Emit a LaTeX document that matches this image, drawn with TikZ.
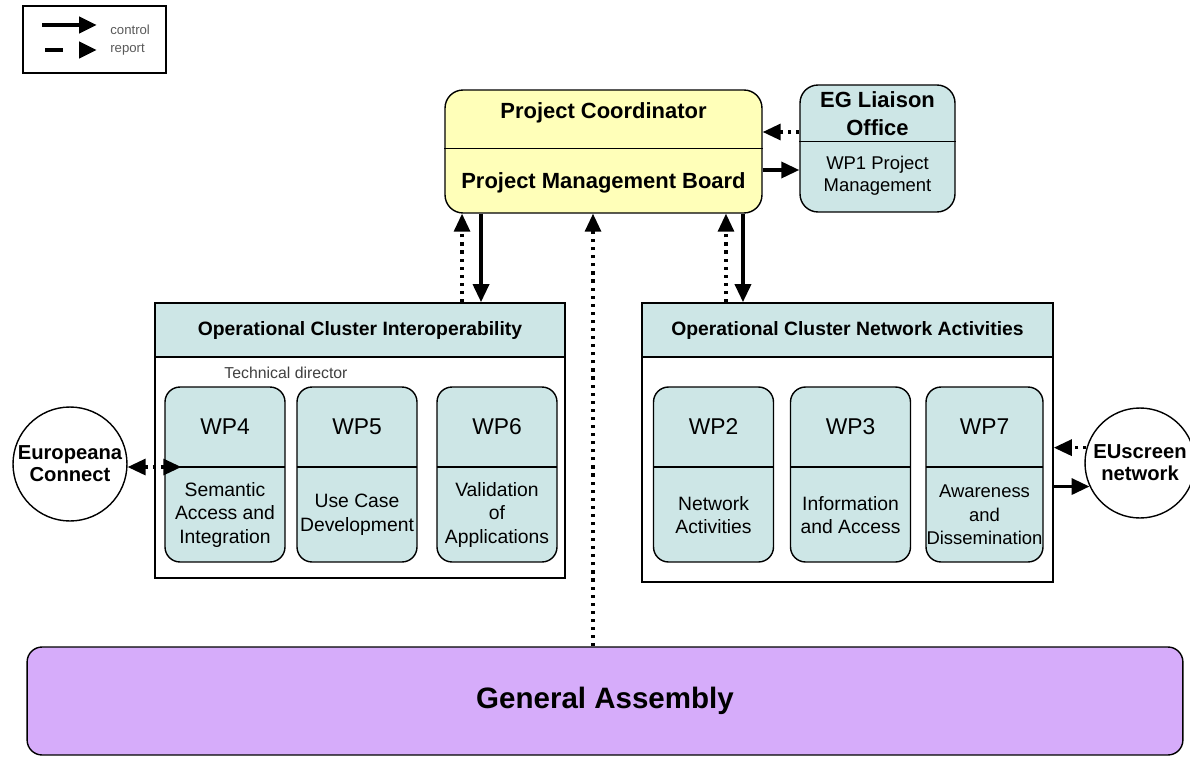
\documentclass[tikz,border=0pt]{standalone}
\usepackage{fontspec}
\setmainfont{Liberation Sans}
\usetikzlibrary{arrows.meta,positioning}

\definecolor{pcyellow}{RGB}{255,255,185}
\definecolor{wpblue}{RGB}{205,230,230}
\definecolor{gapurple}{RGB}{214,172,250}

\begin{document}
\begin{tikzpicture}[
        x=0.02cm, y=-0.02cm,
        >={Triangle[length=0.36cm,width=0.32cm]},
        every node/.style={align=center, inner sep=0pt},
        box/.style={draw, line width=0.8pt, rounded corners=0.3cm},
        wpbox/.style={box, fill=wpblue, minimum width=2.4cm, minimum height=3.5cm},
        wptitle/.style={minimum width=2.4cm, minimum height=1.6cm, font=\fontsize{13}{15}\selectfont},
        wpdesc/.style={minimum width=2.4cm, minimum height=1.9cm, font=\fontsize{11}{13.3}\selectfont},
        cluster/.style={draw, line width=1pt, minimum height=5.5cm},
        clusterhead/.style={draw, line width=1pt, fill=wpblue, minimum height=1.08cm, font=\bfseries\fontsize{11}{13}\selectfont},
        boldtext/.style={font=\bfseries\fontsize{12.5}{16}\selectfont},
        partner/.style={draw, circle, line width=0.8pt, font=\bfseries\fontsize{11.5}{12.5}\selectfont},
        legendtext/.style={text=black!65, font=\fontsize{7.5}{9}\selectfont},
        control/.style={line width=2pt, ->},
        report/.style={line width=1.8pt, dash pattern=on 1.8pt off 2.8pt, ->}
    ]
  \useasboundingbox (0,0) rectangle (1190,757);

  % Legend
  \node[draw, line width=1pt, minimum width=2.86cm, minimum height=1.34cm] (legend) at (94.5,39.5) {};
  \node[legendtext, anchor=west] (ctrltxt) at (110,30) {control};
  \node[legendtext, anchor=west] (reptxt) at (110,50) {report};
  \coordinate (ctrlstart) at (42,25);
  \coordinate (ctrlend) at (97,25);
  \coordinate (repstart) at (45,50);
  \coordinate (repend) at (97,50);
  \draw[line width=2.8pt, ->] (ctrlstart) -- (ctrlend);
  \draw[line width=2.6pt, dash pattern=on 0.36cm off 1cm, ->] (repstart) -- (repend);

  % Management
  \node[box, fill=pcyellow, rounded corners=0.36cm, minimum width=6.34cm, minimum height=2.46cm] (pc) at (603.5,151.5) {};
  \node[boldtext, below=0.25cm of pc.north] (pccoord) {Project Coordinator};
  \node[boldtext, above=0.4cm of pc.south] (pcboard) {Project Management Board};
  \coordinate[below=1.18cm of pc.north] (pcsplit);
  \draw[line width=0.8pt] (pc.west |- pcsplit) -- (pc.east |- pcsplit);

  \node[box, fill=wpblue, rounded corners=0.36cm, minimum width=3.1cm, minimum height=2.54cm] (eg) at (877.5,148.5) {};
  \node[boldtext] (egname) at (877.5,114) {EG Liaison\\Office};
  \node[font=\fontsize{10.5}{12.5}\selectfont] (egwp) at (877.5,176) {WP1 Project\\Management};
  \coordinate[below=1.14cm of eg.north] (egsplit);
  \draw[line width=0.8pt] (eg.west |- egsplit) -- (eg.east |- egsplit);

  % Clusters
  \node[cluster, minimum width=8.2cm] (ocint) at (360,440.5) {};
  \node[clusterhead, minimum width=8.2cm, below=0pt of ocint.north] (ocinthead) {Operational Cluster Interoperability};
  \node[cluster, minimum width=8.22cm, minimum height=5.58cm] (ocnet) at (847.5,442.5) {};
  \node[clusterhead, minimum width=8.22cm, below=0pt of ocnet.north] (ocnethead) {Operational Cluster Network Activities};
  \node[text=black!75, font=\fontsize{9}{11}\selectfont] (techdir) at (286,373) {Technical director};

  % Work packages
  \node[wpbox] (wp4) at (225,474.5) {};
  \node[wptitle, below=0pt of wp4.north] (wp4t) {WP4};
  \node[wpdesc, below=0pt of wp4t] (wp4d) {Semantic\\Access and\\Integration};
  \draw[line width=0.8pt] (wp4t.south west) -- (wp4t.south east);

  \node[wpbox] (wp5) at (357,474.5) {};
  \node[wptitle, below=0pt of wp5.north] (wp5t) {WP5};
  \node[wpdesc, below=0pt of wp5t] (wp5d) {Use Case\\Development};
  \draw[line width=0.8pt] (wp5t.south west) -- (wp5t.south east);

  \node[wpbox] (wp6) at (497,474.5) {};
  \node[wptitle, below=0pt of wp6.north] (wp6t) {WP6};
  \node[wpdesc, below=0pt of wp6t] (wp6d) {Validation\\of\\Applications};
  \draw[line width=0.8pt] (wp6t.south west) -- (wp6t.south east);

  \node[wpbox] (wp2) at (713.5,474.5) {};
  \node[wptitle, below=0pt of wp2.north] (wp2t) {WP2};
  \node[wpdesc, below=0pt of wp2t] (wp2d) {Network\\Activities};
  \draw[line width=0.8pt] (wp2t.south west) -- (wp2t.south east);

  \node[wpbox] (wp3) at (850.5,474.5) {};
  \node[wptitle, below=0pt of wp3.north] (wp3t) {WP3};
  \node[wpdesc, below=0pt of wp3t] (wp3d) {Information\\and Access};
  \draw[line width=0.8pt] (wp3t.south west) -- (wp3t.south east);

  \node[wpbox, minimum width=2.34cm] (wp7) at (984.5,474.5) {};
  \node[wptitle, minimum width=2.34cm, below=0pt of wp7.north] (wp7t) {WP7};
  \node[wpdesc, minimum width=2.34cm, below=0pt of wp7t, font=\fontsize{10.5}{13.3}\selectfont] (wp7d) {Awareness\\and\\Dissemination};
  \draw[line width=0.8pt] (wp7t.south west) -- (wp7t.south east);

  % Partners
  \node[partner, minimum size=2.28cm] (euc) at (70,464) {Europeana\\Connect};
  \node[partner, minimum size=2.2cm] (eus) at (1140,463) {EUscreen\\network};

  \node[box, fill=gapurple, minimum width=23.12cm, minimum height=2.16cm, font=\bfseries\fontsize{16.8}{20}\selectfont] (ga) at (605,701) {General Assembly};

  % Arrows
  \draw[report] ([yshift=0.33cm]eg.west) -- ([yshift=0.33cm]eg.west -| pc.east);
  \draw[control] ([yshift=-0.37cm]pc.east) -- ([yshift=-0.37cm]pc.east -| eg.west);

  \draw[report] ([xshift=-2.83cm]pc.south |- ocint.north) -- ([xshift=-2.83cm]pc.south);
  \draw[control] ([xshift=-2.45cm]pc.south) -- ([xshift=-2.45cm]pc.south |- ocint.north);
  \draw[report] ([xshift=-0.21cm]pc.south |- ga.north) -- ([xshift=-0.21cm]pc.south);
  \draw[report] ([xshift=2.45cm]pc.south |- ocnet.north) -- ([xshift=2.45cm]pc.south);
  \draw[control] ([xshift=2.79cm]pc.south) -- ([xshift=2.79cm]pc.south |- ocnet.north);

  \draw[report, <->] (euc.357) -- ([xshift=0.34cm]euc.357 -| wp4.west);
  \draw[report] (eus.164) -- (eus.164 -| ocnet.east);
  \draw[control] (eus.205 -| ocnet.east) -- (eus.205);
\end{tikzpicture}
\end{document}
